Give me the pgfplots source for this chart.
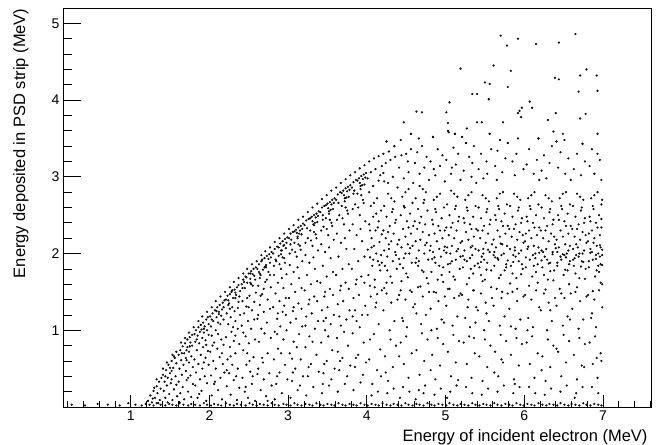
\documentclass[border=0pt]{standalone}
\usepackage{fontspec}
\setmainfont{Liberation Sans}
\usepackage{pgfplots}
\pgfplotsset{compat=1.18}
\pgfplotsset{rootax/.style={
  width=588pt, height=399pt, scale only axis,
  at={(0,0)}, anchor=south west,
  xmin=0.14, xmax=7.61, ymin=0, ymax=5.2,
  tick align=inside, xtick pos=bottom, ytick pos=left,
  axis line style={line width=0.9pt, black},
  tick style={line width=0.7pt, black},
  ticklabel style={font=\fontsize{14}{16}\selectfont},
  /pgf/number format/assume math mode=true,
  label style={font=\fontsize{16.5}{19}\selectfont},
},
dots/.style={only marks, mark=*, mark size=0.9pt, mark options={fill=black!75, draw=none}}}
\begin{document}
\begin{tikzpicture}
\useasboundingbox (-63pt,-37pt) rectangle (600pt,407pt);
\begin{axis}[rootax,
  xtick=\empty, ytick={1,2,3,4,5},
  minor ytick={0.2,0.4,0.6,0.8,1.2,1.4,1.6,1.8,2.2,2.4,2.6,2.8,3.2,3.4,3.6,3.8,4.2,4.4,4.6,4.8,5.2},
  major tick length=18pt, minor tick length=9pt,
  ylabel={Energy deposited in PSD strip (MeV)},
  ylabel style={at={([xshift=-31pt,yshift=3pt]rel axis cs:0,1)}, anchor=south east, rotate=0},
]
\addplot[dots] coordinates {
(1.22,0.08) (1.25,0.15) (1.27,0.06) (1.29,0.21) (1.31,0.12) (1.33,0.27) (1.34,0.18) (1.36,0.33) (1.37,0.09) (1.38,0.24) (1.39,0.38) (1.30,0.25) (1.35,0.05) (1.28,0.11)
(1.41,0.42) (1.42,0.21) (1.43,0.33) (1.44,0.12) (1.45,0.48) (1.46,0.28) (1.47,0.38) (1.48,0.55) (1.49,0.17) (1.50,0.44) (1.51,0.31) (1.52,0.60) (1.53,0.09) (1.54,0.51) (1.55,0.23) (1.56,0.64) (1.57,0.40) (1.58,0.57) (1.59,0.14) (1.44,0.40) (1.52,0.36) (1.55,0.66) (1.58,0.29) (1.47,0.06) (1.50,0.51)
(1.61,0.68) (1.61,0.33) (1.62,0.50) (1.63,0.18) (1.63,0.74) (1.64,0.61) (1.65,0.42) (1.66,0.79) (1.66,0.26) (1.67,0.55) (1.68,0.70) (1.68,0.10) (1.69,0.83) (1.70,0.47) (1.70,0.64) (1.71,0.35) (1.72,0.78) (1.72,0.88) (1.73,0.20) (1.74,0.58) (1.74,0.72) (1.75,0.91) (1.76,0.41) (1.76,0.84) (1.77,0.13) (1.77,0.66) (1.78,0.94) (1.79,0.52) (1.79,0.30) (1.65,0.70) (1.71,0.61) (1.75,0.79) (1.78,0.80) (1.62,0.06) (1.73,0.38)
(1.81,0.95) (1.81,0.62) (1.82,0.28) (1.82,0.85) (1.83,1.00) (1.83,0.45) (1.84,0.74) (1.85,0.12) (1.85,0.93) (1.86,1.04) (1.86,0.56) (1.87,0.83) (1.88,0.36) (1.88,0.98) (1.89,0.68) (1.89,1.07) (1.90,0.21) (1.91,0.90) (1.91,0.50) (1.92,1.10) (1.92,0.78) (1.93,0.97) (1.94,0.40) (1.94,1.05) (1.95,0.64) (1.95,0.87) (1.96,1.14) (1.96,0.08) (1.97,0.31) (1.97,1.00) (1.98,0.73) (1.98,1.17) (1.99,0.55) (1.99,0.94) (1.84,0.88) (1.90,1.01) (1.93,0.58) (1.87,0.17) (1.96,0.81) (1.99,1.08)
(2.01,1.18) (2.01,0.72) (2.02,0.41) (2.02,1.05) (2.03,0.93) (2.03,0.15) (2.04,1.22) (2.05,0.60) (2.05,1.12) (2.06,0.84) (2.06,0.30) (2.07,1.26) (2.08,1.00) (2.08,0.50) (2.09,1.17) (2.10,0.76) (2.10,1.30) (2.11,0.22) (2.11,0.95) (2.12,1.21) (2.13,0.65) (2.13,1.33) (2.14,0.38) (2.14,1.08) (2.15,0.88) (2.16,1.27) (2.16,0.10) (2.17,1.36) (2.17,0.56) (2.18,1.14) (2.18,0.81) (2.19,1.39) (2.19,0.45) (2.04,0.80) (2.09,1.25) (2.15,1.19) (2.07,0.33) (2.11,1.10) (2.16,0.70) (2.18,1.30) (2.03,1.14)
(2.21,1.40) (2.21,0.91) (2.22,0.27) (2.22,1.22) (2.23,1.45) (2.23,0.62) (2.24,1.08) (2.25,0.44) (2.25,1.35) (2.26,0.78) (2.26,1.47) (2.27,0.16) (2.27,1.17) (2.28,1.50) (2.28,0.98) (2.29,0.55) (2.29,1.30) (2.30,1.42) (2.31,0.35) (2.31,0.86) (2.32,1.53) (2.32,1.25) (2.33,0.70) (2.33,1.12) (2.34,1.46) (2.35,0.09) (2.35,1.56) (2.36,0.50) (2.36,1.02) (2.37,1.37) (2.37,1.59) (2.38,0.82) (2.38,0.25) (2.39,1.20) (2.39,1.51) (2.24,1.39) (2.27,0.66) (2.30,1.04) (2.33,1.49) (2.36,1.29) (2.22,0.48) (2.29,1.52) (2.34,0.40) (2.38,1.44) (2.26,1.28)
(2.41,1.60) (2.41,1.06) (2.42,0.38) (2.42,1.38) (2.43,0.74) (2.43,1.66) (2.44,1.22) (2.45,0.20) (2.45,1.55) (2.46,0.92) (2.46,1.70) (2.47,0.55) (2.47,1.31) (2.48,1.62) (2.49,1.12) (2.49,0.12) (2.50,1.74) (2.50,0.83) (2.51,1.45) (2.52,0.46) (2.52,1.67) (2.53,1.02) (2.53,1.77) (2.54,0.30) (2.54,1.26) (2.55,1.58) (2.56,0.65) (2.56,1.80) (2.57,1.14) (2.57,1.71) (2.58,0.88) (2.58,0.08) (2.59,1.49) (2.59,1.82) (2.44,1.63) (2.47,1.69) (2.51,0.60) (2.55,1.73) (2.48,1.42) (2.53,1.60) (2.57,1.37) (2.43,0.97) (2.50,1.30) (2.55,0.40) (2.58,1.66) (2.42,1.55) (2.46,0.26) (2.52,1.74)
(2.61,1.80) (2.61,1.15) (2.62,0.50) (2.62,1.58) (2.63,1.86) (2.63,0.85) (2.64,1.33) (2.65,0.22) (2.65,1.72) (2.66,1.02) (2.66,1.90) (2.67,0.64) (2.67,1.47) (2.68,1.79) (2.69,1.24) (2.69,0.36) (2.70,1.94) (2.70,0.96) (2.71,1.63) (2.72,0.14) (2.72,1.85) (2.73,1.10) (2.73,1.97) (2.74,0.70) (2.74,1.40) (2.75,1.76) (2.76,0.44) (2.76,1.99) (2.77,1.28) (2.77,1.88) (2.78,0.90) (2.78,1.56) (2.79,2.02) (2.79,0.28) (2.64,1.68) (2.67,1.92) (2.71,1.83) (2.75,1.93) (2.62,1.20) (2.68,0.58) (2.73,1.66) (2.77,1.72) (2.65,1.45) (2.70,1.82) (2.74,0.08) (2.78,1.95) (2.69,1.54) (2.63,1.76)
(2.81,2.00) (2.81,1.30) (2.82,0.62) (2.82,1.72) (2.83,2.06) (2.83,0.98) (2.84,1.48) (2.85,0.30) (2.85,1.90) (2.86,1.15) (2.86,2.09) (2.87,0.76) (2.87,1.62) (2.88,1.97) (2.89,1.38) (2.89,0.45) (2.90,2.13) (2.90,1.05) (2.91,1.80) (2.92,0.18) (2.92,2.04) (2.93,1.24) (2.93,2.16) (2.94,0.88) (2.94,1.55) (2.95,1.94) (2.96,0.55) (2.96,2.19) (2.97,1.42) (2.97,2.07) (2.98,1.00) (2.98,1.73) (2.99,2.21) (2.99,0.36) (2.84,1.92) (2.88,2.08) (2.91,1.99) (2.95,2.11) (2.82,1.84) (2.87,1.22) (2.92,1.68) (2.96,1.88) (2.83,0.10) (2.89,1.86) (2.94,2.10) (2.98,2.14) (2.86,0.40) (2.91,0.70) (2.97,1.20) (2.93,1.95)
(3.01,2.20) (3.01,1.42) (3.02,0.70) (3.02,1.85) (3.03,2.26) (3.03,1.10) (3.04,1.60) (3.05,0.34) (3.05,2.05) (3.06,1.25) (3.06,2.28) (3.07,0.85) (3.07,1.76) (3.08,2.14) (3.09,1.50) (3.09,0.50) (3.10,2.31) (3.10,1.15) (3.11,1.96) (3.12,0.22) (3.12,2.22) (3.13,1.35) (3.13,2.34) (3.14,0.95) (3.14,1.68) (3.15,2.10) (3.16,0.62) (3.16,2.36) (3.17,1.55) (3.17,2.25) (3.18,1.05) (3.18,1.90) (3.19,2.39) (3.19,0.40) (3.04,2.18) (3.08,2.29) (3.11,2.27) (3.15,2.30) (3.02,2.00) (3.07,1.30) (3.12,1.82) (3.16,2.05) (3.03,0.12) (3.09,2.02) (3.14,2.26) (3.18,2.32) (3.06,0.45) (3.11,0.78) (3.17,1.28) (3.13,2.12)
(3.21,2.37) (3.21,1.52) (3.22,0.78) (3.22,1.98) (3.23,2.43) (3.23,1.18) (3.24,1.72) (3.25,0.40) (3.25,2.20) (3.26,1.34) (3.26,2.45) (3.27,0.92) (3.27,1.88) (3.28,2.30) (3.29,1.60) (3.29,0.56) (3.30,2.48) (3.30,1.22) (3.31,2.10) (3.32,0.26) (3.32,2.38) (3.33,1.44) (3.33,2.50) (3.34,1.02) (3.34,1.80) (3.35,2.25) (3.36,0.68) (3.36,2.52) (3.37,1.64) (3.37,2.41) (3.38,1.12) (3.38,2.04) (3.39,2.55) (3.39,0.46) (3.24,2.33) (3.28,2.46) (3.31,2.42) (3.35,2.47) (3.22,2.14) (3.27,1.40) (3.32,1.95) (3.36,2.20) (3.23,0.15) (3.29,2.17) (3.34,2.40) (3.38,2.49) (3.26,0.52) (3.31,0.85) (3.37,1.38) (3.33,2.28)
(3.41,2.54) (3.41,1.62) (3.42,0.84) (3.42,2.12) (3.43,2.60) (3.43,1.26) (3.44,1.84) (3.45,0.44) (3.45,2.35) (3.46,1.44) (3.46,2.62) (3.47,1.00) (3.47,2.02) (3.48,2.46) (3.49,1.70) (3.49,0.60) (3.50,2.65) (3.50,1.30) (3.51,2.24) (3.52,0.28) (3.52,2.55) (3.53,1.54) (3.53,2.67) (3.54,1.08) (3.54,1.94) (3.55,2.40) (3.56,0.74) (3.56,2.70) (3.57,1.76) (3.57,2.58) (3.58,1.20) (3.58,2.18) (3.59,2.72) (3.59,0.50) (3.44,2.50) (3.48,2.63) (3.51,2.59) (3.55,2.64) (3.42,2.30) (3.47,1.50) (3.52,2.08) (3.56,2.36) (3.43,0.18) (3.49,2.32) (3.54,2.57) (3.58,2.66) (3.46,0.56) (3.51,0.92) (3.57,1.46) (3.53,2.44) (3.45,1.12) (3.55,0.36)
(3.61,2.70) (3.61,1.72) (3.62,0.90) (3.62,2.26) (3.63,2.77) (3.63,1.34) (3.64,1.96) (3.65,0.48) (3.65,2.50) (3.66,1.52) (3.66,2.80) (3.67,1.06) (3.67,2.14) (3.68,2.62) (3.69,1.80) (3.69,0.64) (3.70,2.82) (3.70,1.38) (3.71,2.38) (3.72,0.30) (3.72,2.72) (3.73,1.62) (3.73,2.85) (3.74,1.14) (3.74,2.06) (3.75,2.56) (3.76,0.80) (3.76,2.87) (3.77,1.86) (3.77,2.74) (3.78,1.26) (3.78,2.30) (3.79,2.89) (3.79,0.54) (3.64,2.66) (3.68,2.79) (3.71,2.76) (3.75,2.81) (3.62,2.44) (3.67,1.58) (3.72,2.20) (3.76,2.52) (3.63,0.20) (3.69,2.46) (3.74,2.73) (3.78,2.83) (3.66,0.60) (3.71,0.98) (3.77,1.54) (3.73,2.60) (3.65,1.18) (3.75,0.40)
(3.81,2.86) (3.81,1.80) (3.82,0.96) (3.82,2.38) (3.83,2.93) (3.83,1.42) (3.84,2.06) (3.85,0.52) (3.85,2.64) (3.86,1.60) (3.86,2.96) (3.87,1.12) (3.87,2.24) (3.88,2.78) (3.89,1.90) (3.89,0.68) (3.90,2.98) (3.90,1.46) (3.91,2.50) (3.92,0.32) (3.92,2.88) (3.93,1.70) (3.93,3.01) (3.94,1.20) (3.94,2.16) (3.95,2.70) (3.96,0.84) (3.96,3.03) (3.97,1.96) (3.97,2.90) (3.98,1.32) (3.98,2.42) (3.99,3.05) (3.99,0.58) (3.84,2.82) (3.88,2.95) (3.91,2.92) (3.95,2.97) (3.82,2.58) (3.87,1.66) (3.92,2.32) (3.96,2.66) (3.83,0.22) (3.89,2.60) (3.94,2.89) (3.98,2.99) (3.86,0.64) (3.91,1.04) (3.97,1.62) (3.93,2.76) (3.85,1.26) (3.95,0.42)
(4.01,2.05) (4.02,1.72) (4.03,2.38) (4.04,1.95) (4.05,2.62) (4.06,2.20) (4.07,1.84) (4.08,2.48) (4.09,2.10) (4.10,1.66) (4.11,2.30) (4.12,2.00) (4.13,2.72) (4.14,1.90) (4.15,2.42) (4.16,2.15) (4.17,1.78) (4.18,2.56) (4.19,2.25) (4.04,2.30) (4.09,2.66) (4.14,2.34) (4.18,1.98) (4.12,2.52)
(4.01,2.98) (4.05,3.06) (4.08,2.88) (4.11,3.10) (4.15,2.95) (4.19,3.14) (4.03,2.80) (4.17,3.02)
(4.01,1.20) (4.03,0.62) (4.05,1.44) (4.07,0.30) (4.09,0.95) (4.11,1.30) (4.13,0.48) (4.15,1.08) (4.17,0.75) (4.19,1.52) (4.06,0.15) (4.14,0.20) (4.10,1.56) (4.18,0.40)
(4.39,2.12) (4.38,1.80) (4.37,2.44) (4.36,2.02) (4.35,2.68) (4.34,2.26) (4.33,1.90) (4.32,2.54) (4.31,2.16) (4.30,1.70) (4.29,2.36) (4.28,2.06) (4.27,2.78) (4.26,1.96) (4.25,2.48) (4.24,2.20) (4.23,1.84) (4.22,2.62) (4.21,2.30) (4.36,2.40) (4.31,2.72) (4.27,2.28) (4.22,2.04) (4.33,2.58) (4.25,1.62)
(4.21,3.05) (4.24,3.18) (4.27,2.92) (4.30,3.22) (4.33,3.00) (4.36,3.26) (4.39,2.86) (4.25,3.46) (4.35,3.40) (4.22,2.94)
(4.21,1.26) (4.23,0.66) (4.25,1.48) (4.27,0.34) (4.29,1.00) (4.31,1.36) (4.33,0.52) (4.35,1.12) (4.37,0.80) (4.39,1.40) (4.26,0.18) (4.34,0.24) (4.30,0.88)
(4.41,2.18) (4.42,1.86) (4.43,2.50) (4.44,2.08) (4.45,2.74) (4.46,2.32) (4.47,1.94) (4.48,2.60) (4.49,2.22) (4.50,1.74) (4.51,2.42) (4.52,2.12) (4.53,2.84) (4.54,2.00) (4.55,2.52) (4.56,2.26) (4.57,1.88) (4.58,2.66) (4.59,2.36) (4.44,1.64) (4.49,2.80) (4.53,2.34) (4.58,2.10) (4.47,2.62)
(4.41,3.12) (4.44,3.28) (4.47,2.98) (4.50,3.30) (4.53,3.06) (4.56,3.36) (4.59,2.92) (4.43,3.48) (4.47,3.71) (4.56,3.56) (4.52,3.20)
(4.59,1.30) (4.57,0.70) (4.55,1.52) (4.53,0.38) (4.51,1.04) (4.49,1.40) (4.47,0.56) (4.45,1.16) (4.43,0.84) (4.41,1.46) (4.54,0.20) (4.46,0.26) (4.50,0.92) (4.42,0.12)
(4.79,2.24) (4.78,1.92) (4.77,2.56) (4.76,2.14) (4.75,2.80) (4.74,2.38) (4.73,2.00) (4.72,2.66) (4.71,2.28) (4.70,1.78) (4.69,2.48) (4.68,2.18) (4.67,2.88) (4.66,2.04) (4.65,2.58) (4.64,2.32) (4.63,1.94) (4.62,2.72) (4.61,2.42) (4.76,1.68) (4.71,2.84) (4.67,2.40) (4.62,2.16) (4.73,2.70) (4.65,1.84)
(4.61,3.18) (4.64,3.32) (4.67,3.04) (4.70,3.40) (4.73,3.12) (4.76,3.26) (4.79,2.96) (4.63,3.85) (4.70,3.84) (4.66,3.50)
(4.61,1.34) (4.63,0.74) (4.65,1.56) (4.67,0.42) (4.69,1.08) (4.71,1.44) (4.73,0.60) (4.75,1.20) (4.77,0.88) (4.79,1.50) (4.66,0.22) (4.74,0.28) (4.70,0.96) (4.62,0.10)
(4.81,2.10) (4.82,1.76) (4.83,2.44) (4.84,2.02) (4.85,2.70) (4.86,2.26) (4.87,1.88) (4.88,2.54) (4.89,2.16) (4.90,1.66) (4.91,2.36) (4.92,2.06) (4.93,2.78) (4.94,1.96) (4.95,2.46) (4.96,2.20) (4.97,1.82) (4.98,2.60) (4.99,2.30) (4.84,2.38) (4.89,2.74) (4.93,2.30) (4.98,2.04) (4.87,2.58) (4.95,1.72)
(4.81,3.20) (4.84,3.52) (4.87,3.02) (4.90,3.36) (4.93,3.14) (4.96,3.28) (4.99,2.94) (4.85,3.10)
(4.81,1.28) (4.83,0.68) (4.85,1.50) (4.87,0.36) (4.89,1.02) (4.91,1.38) (4.93,0.54) (4.95,1.14) (4.97,0.82) (4.99,1.44) (4.86,0.16) (4.94,0.24) (4.90,0.90) (4.82,1.00)
(5.19,2.14) (5.18,1.80) (5.17,2.48) (5.16,2.06) (5.15,2.74) (5.14,2.30) (5.13,1.92) (5.12,2.58) (5.11,2.20) (5.10,1.70) (5.09,2.40) (5.08,2.10) (5.07,2.82) (5.06,2.00) (5.05,2.50) (5.04,2.24) (5.03,1.86) (5.02,2.64) (5.01,2.34) (5.16,2.42) (5.11,2.78) (5.07,2.34) (5.02,2.08) (5.13,2.62) (5.05,1.76)
(5.01,3.22) (5.03,3.60) (5.04,3.58) (5.05,3.97) (5.01,3.84) (5.03,3.70) (5.07,3.04) (5.10,3.38) (5.12,3.56) (5.13,3.16) (5.16,3.30) (5.19,4.41) (5.19,2.96) (5.08,3.12)
(5.01,1.32) (5.03,0.72) (5.05,1.54) (5.07,0.40) (5.09,1.06) (5.11,1.42) (5.13,0.58) (5.15,1.18) (5.17,0.86) (5.19,1.48) (5.06,0.20) (5.14,0.28) (5.10,0.94) (5.02,0.12)
(5.21,2.16) (5.22,1.82) (5.23,2.46) (5.24,2.04) (5.25,2.70) (5.26,2.28) (5.27,1.90) (5.28,2.56) (5.29,2.18) (5.30,1.68) (5.31,2.38) (5.32,2.08) (5.33,2.80) (5.34,1.98) (5.35,2.48) (5.36,2.22) (5.37,1.84) (5.38,2.62) (5.39,2.32) (5.24,2.40) (5.29,2.76) (5.33,2.32) (5.38,2.06) (5.27,2.60) (5.35,1.74) (5.31,1.94)
(5.21,3.52) (5.26,3.44) (5.27,3.63) (5.23,3.08) (5.30,3.26) (5.33,3.00) (5.36,3.40) (5.39,2.92) (5.40,4.08) (5.34,3.18)
(5.39,1.30) (5.37,0.70) (5.35,1.52) (5.33,0.38) (5.31,1.04) (5.29,1.40) (5.27,0.56) (5.25,1.16) (5.23,0.84) (5.21,1.46) (5.34,0.18) (5.26,0.26) (5.30,0.92) (5.38,1.10)
(5.59,2.12) (5.58,1.78) (5.57,2.44) (5.56,2.02) (5.55,2.68) (5.54,2.26) (5.53,1.88) (5.52,2.54) (5.51,2.14) (5.50,1.66) (5.49,2.36) (5.48,2.06) (5.47,2.76) (5.46,1.96) (5.45,2.46) (5.44,2.20) (5.43,1.82) (5.42,2.60) (5.41,2.30) (5.56,2.38) (5.51,2.72) (5.47,2.30) (5.42,2.04) (5.53,2.58) (5.45,1.72) (5.49,1.92)
(5.46,3.71) (5.50,4.23) (5.55,4.01) (5.56,4.21) (5.56,3.56) (5.42,3.10) (5.45,3.30) (5.48,2.98) (5.52,3.20) (5.58,3.36) (5.53,3.04)
(5.41,1.26) (5.43,0.66) (5.45,1.48) (5.47,0.34) (5.49,1.00) (5.51,1.36) (5.53,0.52) (5.55,1.12) (5.57,0.80) (5.59,1.42) (5.46,0.16) (5.54,0.24) (5.50,0.88)
(5.61,2.18) (5.62,1.84) (5.63,2.50) (5.64,2.08) (5.65,2.72) (5.66,2.30) (5.67,1.92) (5.68,2.58) (5.69,2.22) (5.70,1.72) (5.71,2.42) (5.72,2.12) (5.73,2.80) (5.74,2.00) (5.75,2.52) (5.76,2.26) (5.77,1.86) (5.78,2.64) (5.79,2.36) (5.64,2.44) (5.69,2.78) (5.73,2.36) (5.78,2.10) (5.67,2.62) (5.75,1.78) (5.71,1.98) (5.62,2.02)
(5.61,4.45) (5.70,4.84) (5.78,4.71) (5.79,4.17) (5.73,3.71) (5.69,3.48) (5.79,3.44) (5.63,3.14) (5.66,3.34) (5.72,3.06) (5.76,3.24) (5.65,2.96)
(5.61,1.32) (5.63,0.72) (5.65,1.54) (5.67,0.40) (5.69,1.06) (5.71,1.42) (5.73,0.58) (5.75,1.18) (5.77,0.86) (5.79,1.48) (5.66,0.20) (5.74,0.28) (5.70,0.94)
(5.99,2.14) (5.98,1.80) (5.97,2.46) (5.96,2.04) (5.95,2.70) (5.94,2.28) (5.93,1.90) (5.92,2.56) (5.91,2.18) (5.90,1.68) (5.89,2.38) (5.88,2.08) (5.87,2.78) (5.86,1.98) (5.85,2.48) (5.84,2.22) (5.83,1.84) (5.82,2.62) (5.81,2.32) (5.96,2.40) (5.91,2.74) (5.87,2.32) (5.82,2.06) (5.93,2.60) (5.85,1.74) (5.89,1.96) (5.98,2.24)
(5.83,4.38) (5.92,4.80) (5.97,3.90) (5.94,3.86) (5.92,3.83) (5.96,3.78) (5.92,3.50) (5.85,3.20) (5.88,3.02) (5.90,3.30) (5.99,3.10)
(5.81,1.28) (5.83,0.68) (5.85,1.50) (5.87,0.36) (5.89,1.02) (5.91,1.38) (5.93,0.54) (5.95,1.14) (5.97,0.82) (5.99,1.44) (5.86,0.18) (5.94,0.26) (5.90,0.90)
(6.01,2.16) (6.02,1.82) (6.03,2.48) (6.04,2.06) (6.05,2.72) (6.06,2.30) (6.07,1.92) (6.08,2.58) (6.09,2.20) (6.10,1.70) (6.11,2.40) (6.12,2.10) (6.13,2.80) (6.14,2.00) (6.15,2.50) (6.16,2.24) (6.17,1.86) (6.18,2.64) (6.19,2.34) (6.04,2.42) (6.09,2.76) (6.13,2.34) (6.18,2.08) (6.07,2.62) (6.15,1.76) (6.11,1.98) (6.02,2.26)
(6.07,3.98) (6.10,3.90) (6.15,4.73) (6.18,3.50) (6.03,3.16) (6.06,3.36) (6.12,3.04) (6.16,3.22) (6.19,2.96)
(6.19,1.30) (6.17,0.70) (6.15,1.52) (6.13,0.38) (6.11,1.04) (6.09,1.40) (6.07,0.56) (6.05,1.16) (6.03,0.84) (6.01,1.46) (6.14,0.18) (6.06,0.26) (6.10,0.92)
(6.39,2.12) (6.38,1.78) (6.37,2.44) (6.36,2.02) (6.35,2.68) (6.34,2.26) (6.33,1.88) (6.32,2.54) (6.31,2.16) (6.30,1.66) (6.29,2.36) (6.28,2.06) (6.27,2.76) (6.26,1.96) (6.25,2.46) (6.24,2.20) (6.23,1.82) (6.22,2.60) (6.21,2.30) (6.36,2.38) (6.31,2.72) (6.27,2.30) (6.22,2.04) (6.33,2.58) (6.25,1.72) (6.29,1.92) (6.38,2.22)
(6.39,4.29) (6.37,3.59) (6.22,3.08) (6.25,3.28) (6.28,2.98) (6.32,3.18) (6.35,3.40) (6.30,3.74)
(6.21,1.26) (6.23,0.66) (6.25,1.48) (6.27,0.34) (6.29,1.00) (6.31,1.36) (6.33,0.52) (6.35,1.12) (6.37,0.80) (6.39,1.42) (6.26,0.16) (6.34,0.24) (6.30,0.88)
(6.41,2.18) (6.42,1.84) (6.43,2.50) (6.44,2.08) (6.45,2.72) (6.46,2.30) (6.47,1.92) (6.48,2.58) (6.49,2.22) (6.50,1.72) (6.51,2.42) (6.52,2.12) (6.53,2.80) (6.54,2.00) (6.55,2.52) (6.56,2.26) (6.57,1.86) (6.58,2.64) (6.59,2.36) (6.44,2.44) (6.49,2.78) (6.53,2.36) (6.58,2.10) (6.47,2.62) (6.55,1.78) (6.51,1.98) (6.42,2.02) (6.46,1.96) (6.56,2.04)
(6.44,4.27) (6.44,4.75) (6.40,3.83) (6.49,3.56) (6.51,3.48) (6.41,3.46) (6.43,3.12) (6.46,3.32) (6.52,3.04) (6.56,3.24) (6.59,2.96)
(6.41,1.32) (6.43,0.72) (6.45,1.54) (6.47,0.40) (6.49,1.06) (6.51,1.42) (6.53,0.58) (6.55,1.18) (6.57,0.86) (6.59,1.48) (6.46,0.20) (6.54,0.28) (6.50,0.94)
(6.79,2.14) (6.78,1.80) (6.77,2.46) (6.76,2.04) (6.75,2.70) (6.74,2.28) (6.73,1.90) (6.72,2.56) (6.71,2.18) (6.70,1.68) (6.69,2.38) (6.68,2.08) (6.67,2.78) (6.66,1.98) (6.65,2.48) (6.64,2.22) (6.63,1.84) (6.62,2.62) (6.61,2.32) (6.76,2.40) (6.71,2.74) (6.67,2.32) (6.62,2.06) (6.73,2.60) (6.65,1.74) (6.69,1.96) (6.78,2.24) (6.74,2.00) (6.64,1.94)
(6.65,4.86) (6.71,4.32) (6.79,4.40) (6.69,4.11) (6.78,3.82) (6.71,3.76) (6.74,3.43) (6.63,3.10) (6.67,3.30) (6.72,3.02) (6.77,3.20)
(6.61,1.28) (6.63,0.68) (6.65,1.50) (6.67,0.36) (6.69,1.02) (6.71,1.38) (6.73,0.54) (6.75,1.14) (6.77,0.82) (6.79,1.44) (6.66,0.18) (6.74,0.26) (6.70,0.90)
(6.81,2.16) (6.82,1.82) (6.83,2.48) (6.84,2.06) (6.85,2.72) (6.86,2.30) (6.87,1.92) (6.88,2.58) (6.89,2.20) (6.90,1.70) (6.91,2.40) (6.92,2.10) (6.93,2.80) (6.94,2.00) (6.95,2.50) (6.96,2.24) (6.97,1.86) (6.98,2.64) (6.98,2.34) (6.84,2.42) (6.89,2.76) (6.93,2.34) (6.97,2.08) (6.87,2.62) (6.95,1.76) (6.91,1.98) (6.82,2.26) (6.86,2.02) (6.96,1.96)
(6.92,4.32) (6.93,4.12) (6.93,3.56) (6.93,3.30) (6.83,3.14) (6.86,3.36) (6.89,3.04) (6.96,3.22) (6.98,2.96)
(6.99,1.30) (6.97,0.70) (6.95,1.52) (6.93,0.38) (6.91,1.04) (6.89,1.40) (6.87,0.56) (6.85,1.16) (6.83,0.84) (6.81,1.46) (6.94,0.18) (6.86,0.26) (6.90,0.92)
(6.99,2.05) (6.99,1.85) (6.98,2.45) (6.99,1.60) (6.99,2.70) (6.98,0.60)
(4.35,3.40) (4.25,3.46) (4.84,3.52) (5.12,3.56) (5.21,3.52) (5.26,3.44) (5.56,3.56) (5.79,3.44) (6.18,3.50) (6.41,3.46) (6.74,3.43) (5.34,4.08) (5.55,4.01) (4.56,3.56) (5.40,3.71)
};
\addplot[dots] coordinates {
(4.04,1.58) (4.08,1.92) (4.13,1.47) (4.16,1.85) (4.22,1.55) (4.26,1.78) (4.32,1.62) (4.37,1.98) (4.43,1.52) (4.46,1.81) (4.52,1.69) (4.57,1.50) (4.62,1.88) (4.68,1.57) (4.72,1.76) (4.78,1.61) (4.83,1.93) (4.88,1.49) (4.92,1.84) (4.97,1.63) (5.03,1.54) (5.08,1.90) (5.12,1.66) (5.17,1.45) (5.22,1.97) (5.27,1.60) (5.32,1.80) (5.36,1.52) (5.41,1.87) (5.47,1.64) (5.52,1.79) (5.58,1.56) (5.63,1.95) (5.68,1.68) (5.72,1.50) (5.77,1.82) (5.82,1.61) (5.86,1.89) (5.91,1.54) (5.96,1.73) (6.02,1.95) (6.06,1.58) (6.12,1.84) (6.17,1.62) (6.22,1.91) (6.27,1.53) (6.33,1.77) (6.37,1.65) (6.42,1.88) (6.47,1.48) (6.52,1.79) (6.57,1.60) (6.62,1.92) (6.67,1.56) (6.72,1.83) (6.77,1.67) (6.82,1.90) (6.87,1.51) (6.92,1.78) (6.97,1.62)
(4.06,2.08) (4.19,1.88) (4.28,2.12) (4.41,1.93) (4.55,2.07) (4.66,1.90) (4.74,2.11) (4.86,1.95) (4.99,2.09) (5.06,1.87) (5.14,2.03) (5.24,1.92) (5.34,2.10) (5.45,1.89) (5.54,2.05) (5.61,1.98) (5.70,2.13) (5.79,1.91) (5.88,2.04) (5.97,1.86) (6.05,2.09) (6.14,1.94) (6.24,2.02) (6.31,1.87) (6.40,2.07) (6.49,1.99) (6.58,1.90) (6.66,2.12) (6.75,1.89) (6.84,2.01) (6.91,1.93) (6.96,2.11) (6.99,1.98) (6.94,1.84) (6.88,2.14) (6.70,2.00) (6.53,1.95) (6.36,1.99) (6.19,2.01) (5.93,2.00) (5.66,1.94) (5.48,2.00) (5.19,1.96) (5.01,2.01) (4.80,2.04) (4.49,2.00)
(1.33,0.36) (1.41,0.50) (1.46,0.58) (1.53,0.68) (1.58,0.72) (1.64,0.84) (1.69,0.90) (1.74,0.97) (1.80,1.04) (1.86,1.12) (1.91,1.18) (1.97,1.24) (2.03,1.30) (2.08,1.38) (2.14,1.44) (2.20,1.50) (2.26,1.56) (2.31,1.63) (2.37,1.68) (2.43,1.74) (2.48,1.80) (2.54,1.86) (2.60,1.90) (2.66,1.98) (2.71,2.03) (2.77,2.08) (2.83,2.15) (2.89,2.20) (2.95,2.26) (3.01,2.32) (3.07,2.37) (3.13,2.44) (3.19,2.48) (3.25,2.54) (3.31,2.60) (3.37,2.65) (3.43,2.71) (3.49,2.76) (3.55,2.82) (3.61,2.86) (3.67,2.92) (3.73,2.97) (3.79,3.02) (3.85,3.06) (3.91,3.11) (3.97,3.15) (4.03,3.20) (4.09,3.24) (4.15,3.27) (4.21,3.30) (4.28,3.33)
(1.52,0.47) (1.71,0.74) (1.93,1.02) (2.12,1.24) (2.33,1.42) (2.52,1.62) (2.72,1.82) (2.91,2.04) (3.12,2.20) (3.33,2.37) (3.52,2.52) (3.72,2.68) (3.92,2.84) (2.24,1.33) (2.64,1.74) (3.03,2.12) (3.44,2.44) (3.83,2.78)
(2.33,0.93) (2.61,0.43) (2.86,0.95) (3.05,0.63) (3.22,1.06) (3.44,0.30) (3.63,0.72) (3.82,1.18) (4.04,0.88) (4.24,0.45) (4.41,0.66) (4.63,1.22) (4.81,0.48) (4.98,1.10) (5.16,0.35) (5.36,0.90) (5.52,1.22) (5.71,0.62) (5.88,0.30) (6.04,1.00) (6.22,0.48) (6.41,0.76) (6.58,1.14) (6.76,0.52) (6.92,0.64) (2.48,0.70) (2.95,1.32) (3.48,1.16) (4.12,1.36) (4.72,0.18) (5.28,1.30) (5.83,1.05) (6.33,1.26) (6.86,1.22) (3.15,0.28) (4.46,1.12) (5.62,0.45) (6.64,0.12)
};
\addplot[dots] coordinates {
(0.25,0.03) (0.42,0.02) (0.58,0.04) (0.71,0.03) (0.86,0.02) (0.97,0.05) (1.06,0.03) (1.14,0.02) (1.19,0.04) (1.24,0.03) (1.29,0.02) (1.33,0.05) (1.38,0.03) (1.44,0.02) (1.49,0.04) (1.53,0.03) (1.58,0.02) (1.62,0.05) (1.67,0.03) (1.73,0.02) (1.77,0.04) (1.82,0.03) (1.88,0.02) (1.93,0.05) (1.97,0.03) (2.02,0.02) (2.06,0.04) (2.11,0.03) (2.15,0.02) (2.21,0.05) (2.26,0.03) (2.31,0.02) (2.35,0.04) (2.40,0.03) (2.46,0.02) (2.51,0.05) (2.55,0.03) (2.60,0.02) (2.64,0.04) (2.69,0.03) (2.74,0.02) (2.79,0.05) (2.83,0.03) (2.88,0.02) (2.94,0.04) (2.98,0.03) (3.03,0.02) (3.08,0.05) (3.12,0.03) (3.17,0.02) (3.22,0.04) (3.27,0.03) (3.31,0.02) (3.36,0.05) (3.41,0.03) (3.45,0.02) (3.50,0.04) (3.55,0.03) (3.59,0.02) (3.64,0.05) (3.69,0.03) (3.73,0.02) (3.78,0.04) (3.83,0.03) (3.87,0.02) (3.92,0.05) (3.97,0.03) (4.01,0.02) (4.06,0.04) (4.11,0.03) (4.15,0.02) (4.20,0.05) (4.25,0.03) (4.30,0.02) (4.34,0.04) (4.39,0.03) (4.44,0.02) (4.49,0.05) (4.53,0.03) (4.58,0.02) (4.63,0.04) (4.67,0.03) (4.72,0.02) (4.77,0.05) (4.82,0.03) (4.86,0.02) (4.91,0.04) (4.96,0.03) (5.01,0.02) (5.05,0.05) (5.10,0.03) (5.15,0.02) (5.19,0.04) (5.24,0.03) (5.29,0.02) (5.34,0.05) (5.38,0.03) (5.43,0.02) (5.48,0.04) (5.52,0.03) (5.57,0.02) (5.62,0.05) (5.66,0.03) (5.71,0.02) (5.76,0.04) (5.81,0.03) (5.85,0.02) (5.90,0.05) (5.95,0.03) (5.99,0.02) (6.04,0.04) (6.09,0.03) (6.13,0.02) (6.18,0.05) (6.23,0.03) (6.28,0.02) (6.32,0.04) (6.37,0.03) (6.42,0.02) (6.46,0.05) (6.51,0.03) (6.56,0.02) (6.60,0.04) (6.65,0.03) (6.70,0.02) (6.75,0.05) (6.79,0.03) (6.84,0.02) (6.89,0.04) (6.94,0.03) (6.98,0.02)
};
\end{axis}
\begin{axis}[rootax,
  xtick={1,2,3,4,5,6,7}, ytick=\empty,
  minor xtick={0.2,0.4,0.6,0.8,1.2,1.4,1.6,1.8,2.2,2.4,2.6,2.8,3.2,3.4,3.6,3.8,4.2,4.4,4.6,4.8,5.2,5.4,5.6,5.8,6.2,6.4,6.6,6.8,7.2,7.4,7.6},
  major tick length=12pt, minor tick length=6pt,
  xlabel={Energy of incident electron (MeV)},
  xlabel style={at={([yshift=-34pt]rel axis cs:1,0)}, anchor=base east},
]
\end{axis}
\end{tikzpicture}
\end{document}
